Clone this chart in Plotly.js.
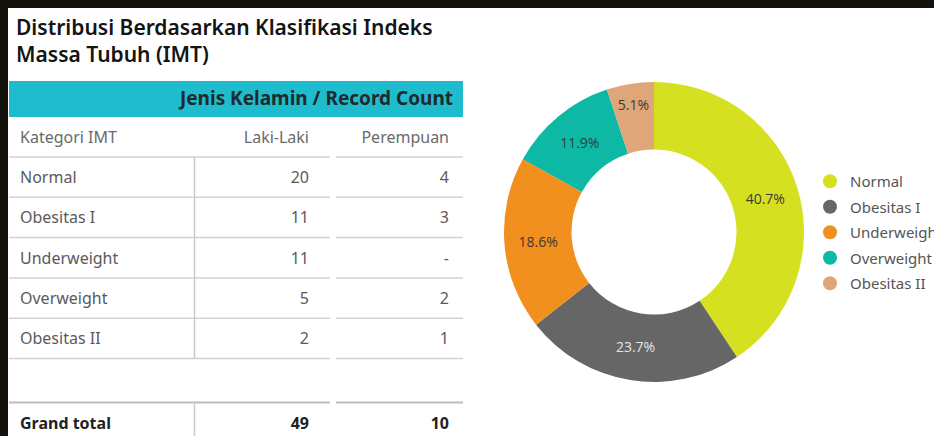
<!DOCTYPE html>
<html>
<head>
<meta charset="utf-8">
<script src="https://cdn.plot.ly/plotly-3.0.1.min.js"></script>
<style>
  html, body { margin: 0; padding: 0; background: #15110b; }
  #chart { width: 934px; height: 436px; }
</style>
</head>
<body>
<div id="chart"></div>
<script>
// ---- Data ----
const chartTitle = 'Distribusi Berdasarkan Klasifikasi Indeks<br>Massa Tubuh (IMT)';
const tableHeader = 'Jenis Kelamin / Record Count';
const columnLabels = ['Kategori IMT', 'Laki-Laki', 'Perempuan'];
const categories = ['Normal', 'Obesitas I', 'Underweight', 'Overweight', 'Obesitas II'];
const lakiLaki = [20, 11, 11, 5, 2];
const perempuan = [4, 3, null, 2, 1];
const totalLabel = 'Grand total';
const sliceColors = ['#D5E021', '#666666', '#F18F1F', '#0DB8A4', '#DFA679'];
const sliceTextColors = ['#3a3a3a', '#e4e4e4', '#3a3a3a', '#3a3a3a', '#3a3a3a'];

// ---- Derived ----
const sum = a => a.reduce((s, v) => s + (v || 0), 0);
const lakiTotal = sum(lakiLaki);
const perempuanTotal = sum(perempuan);
const combined = categories.map((c, i) => (lakiLaki[i] || 0) + (perempuan[i] || 0));
const fmt = v => (v === null || v === undefined) ? '-' : String(v);

// ---- Table geometry (pixel-like units on a hidden axis) ----
const T = {
  left: 9, right: 463, colSplit: 194.5, gapL: 330, gapR: 336,
  barTop: 81, barBot: 117,
  headY: 137, firstLine: 157, rowH: 40.3,
  totalLine: 402.5, totalY: 423,
  col0x: 20, col1x: 309, col2x: 449, textDy: 2
};
const rowY = i => T.firstLine + T.rowH * (i + 0.5) + T.textDy;
const lineY = k => T.firstLine + T.rowH * k;

const FONT = 'Noto Sans, Lato, sans-serif';
const traces = [];

// Donut
traces.push({
  type: 'pie',
  labels: categories,
  values: combined,
  hole: 0.55,
  sort: false,
  direction: 'clockwise',
  rotation: 0,
  marker: { colors: sliceColors, line: { width: 0 } },
  texttemplate: '%{percent:.1%}',
  textposition: 'inside',
  insidetextorientation: 'horizontal',
  insidetextfont: { family: 'Open Sans, sans-serif', size: 14, color: sliceTextColors },
  domain: { x: [504 / 934, 804 / 934], y: [54 / 436, 354 / 436] },
  showlegend: false,
  hoverinfo: 'label+value+percent'
});

// Legend entries (circle markers)
categories.forEach((c, i) => {
  traces.push({
    type: 'scatter', mode: 'markers', x: [null], y: [null],
    name: c, legendgroup: 'g' + i, showlegend: true,
    marker: { color: sliceColors[i], size: 14, symbol: 'circle' },
    hoverinfo: 'skip'
  });
});

function textTrace(xs, ys, texts, pos, size, color) {
  return {
    type: 'scatter', mode: 'text', showlegend: false, hoverinfo: 'skip',
    x: xs, y: ys, text: texts, textposition: pos,
    textfont: { family: FONT, size: size, color: color }
  };
}
const rowYs = categories.map((c, i) => rowY(i));
const headY = T.headY + T.textDy;
const totY = T.totalY + T.textDy;

// Column header labels
traces.push(textTrace([T.col0x], [headY], [columnLabels[0]], 'middle right', 16, '#6a6a6a'));
traces.push(textTrace([T.col1x, T.col2x], [headY, headY], columnLabels.slice(1), 'middle left', 16, '#6a6a6a'));
// Categories and values
traces.push(textTrace(categories.map(() => T.col0x), rowYs, categories, 'middle right', 16, '#5a5a5a'));
traces.push(textTrace(categories.map(() => T.col1x), rowYs, lakiLaki.map(fmt), 'middle left', 16, '#5a5a5a'));
traces.push(textTrace(categories.map(() => T.col2x), rowYs, perempuan.map(fmt), 'middle left', 16, '#5a5a5a'));
// Grand total
traces.push(textTrace([T.col0x], [totY], ['<b>' + totalLabel + '</b>'], 'middle right', 16, '#222222'));
traces.push(textTrace([T.col1x, T.col2x], [totY, totY],
  ['<b>' + lakiTotal + '</b>', '<b>' + perempuanTotal + '</b>'], 'middle left', 16, '#222222'));
// Header bar text
traces.push(textTrace([T.right - 10], [(T.barTop + T.barBot) / 2 + 1], ['<b>' + tableHeader + '</b>'], 'middle left', 19, '#1e2a2c'));

// ---- Shapes ----
const shapes = [];
shapes.push({ type: 'rect', xref: 'paper', yref: 'paper', x0: 8 / 934, x1: 1, y0: 0, y1: 1 - 8 / 436,
  fillcolor: '#ffffff', line: { width: 0 }, layer: 'below' });
shapes.push({ type: 'rect', xref: 'x', yref: 'y', x0: T.left, x1: T.right, y0: T.barTop, y1: T.barBot,
  fillcolor: '#1EBCCC', line: { width: 0 }, layer: 'below' });
for (let k = 0; k <= categories.length; k++) {
  const y = lineY(k);
  shapes.push({ type: 'line', xref: 'x', yref: 'y', x0: T.left, x1: T.gapL, y0: y, y1: y, line: { color: '#d2d2d2', width: 1.5 }, layer: 'below' });
  shapes.push({ type: 'line', xref: 'x', yref: 'y', x0: T.gapR, x1: T.right, y0: y, y1: y, line: { color: '#d2d2d2', width: 1.5 }, layer: 'below' });
}
shapes.push({ type: 'line', xref: 'x', yref: 'y', x0: T.left, x1: T.gapL, y0: T.totalLine, y1: T.totalLine, line: { color: '#bdbdbd', width: 2 }, layer: 'below' });
shapes.push({ type: 'line', xref: 'x', yref: 'y', x0: T.gapR, x1: T.right, y0: T.totalLine, y1: T.totalLine, line: { color: '#bdbdbd', width: 2 }, layer: 'below' });
shapes.push({ type: 'line', xref: 'x', yref: 'y', x0: T.colSplit, x1: T.colSplit, y0: lineY(0), y1: lineY(categories.length), line: { color: '#c8c8c8', width: 1.5 }, layer: 'below' });
shapes.push({ type: 'line', xref: 'x', yref: 'y', x0: T.colSplit, x1: T.colSplit, y0: T.totalLine, y1: 436, line: { color: '#c8c8c8', width: 1.5 }, layer: 'below' });

const layout = {
  width: 934, height: 436,
  margin: { l: 0, r: 0, t: 0, b: 0, autoexpand: false },
  paper_bgcolor: '#15110b',
  plot_bgcolor: 'rgba(0,0,0,0)',
  xaxis: { range: [0, 934], visible: false, fixedrange: true, domain: [0, 1] },
  yaxis: { range: [436, 0], visible: false, fixedrange: true, domain: [0, 1] },
  annotations: [{
    text: chartTitle,
    xref: 'paper', yref: 'paper', x: 14 / 934, xanchor: 'left', y: 1 - 11 / 436, yanchor: 'top',
    align: 'left', showarrow: false,
    font: { family: FONT, size: 21, color: '#141414', weight: 600 }
  }],
  showlegend: true,
  legend: {
    xref: 'container', yref: 'container',
    x: 810 / 934, xanchor: 'left', y: 1 - 165 / 436, yanchor: 'top',
    font: { family: FONT, size: 15, color: '#555555' },
    bgcolor: 'rgba(0,0,0,0)', tracegroupgap: 3, traceorder: 'grouped',
    itemclick: false, itemdoubleclick: false
  },
  shapes: shapes
};

Plotly.newPlot('chart', traces, layout, { displayModeBar: false, staticPlot: true });
</script>
</body>
</html>
